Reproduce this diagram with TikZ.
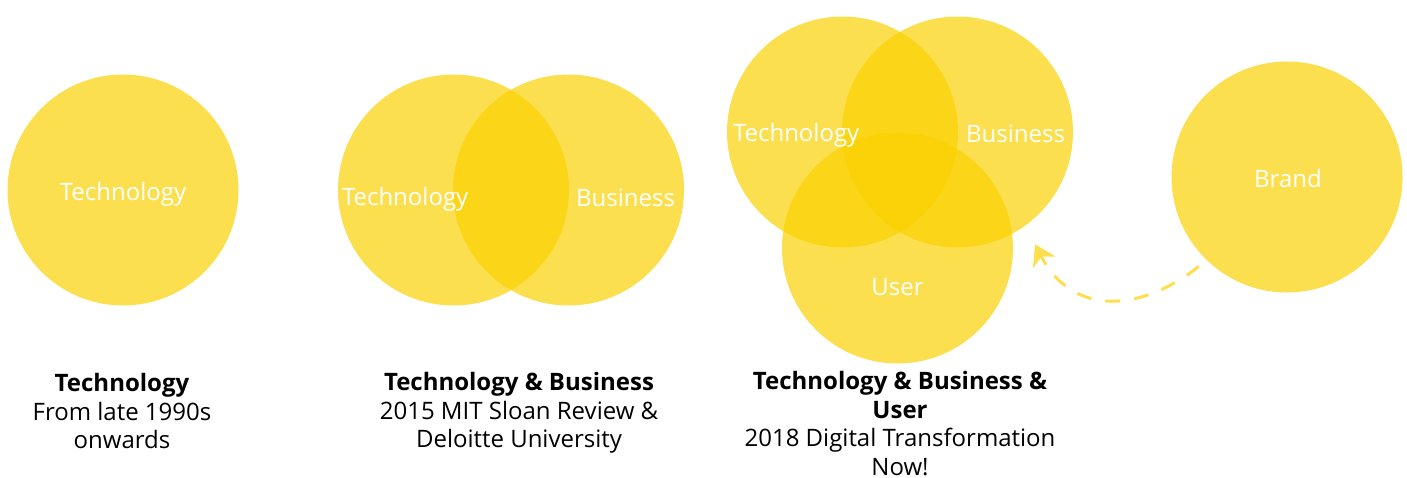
\documentclass[tikz,border=0pt]{standalone}
\usepackage{fontspec}
\setmainfont{Open Sans}
\usepackage{xcolor, tikz}
\usetikzlibrary{positioning,arrows.meta}
\definecolor{sun}{RGB}{250,209,0}
\colorlet{sunlight}{sun!69!white}
\tikzstyle{disc} = [circle, minimum size=231pt, inner sep=0pt, fill=sun, fill opacity=0.69]
\tikzstyle{lbl} = [text=white, inner sep=0pt, font=\fontsize{24}{28}\selectfont]
\tikzstyle{caption} = [align=center, inner sep=0pt, font=\fontsize{24}{28.5}\selectfont]
\tikzstyle{dasharrow} = [draw=sunlight, line width=3pt, dash pattern=on 15pt off 14pt, -{Stealth[length=20pt, width=25pt, inset=6pt]}]

\begin{document}
\begin{tikzpicture}[x=1pt, y=-1pt]
    \useasboundingbox (0,0) rectangle (1407,477);
    % the circles
    \node (tech1)[disc] at (123,190) {};
    \node (tech2)[disc] at (453.5,190) {};
    \node (bus2)[disc] at (568.5,190) {};
    \node (tech3)[disc] at (842.5,132) {};
    \node (bus3)[disc] at (957.5,132) {};
    \node (user3)[disc] at (897.5,248) {};
    \node (brand)[disc] at (1287,177) {};
    % labels on top
    \node (l1)[lbl] at (123,194) {Technology};
    \node (l2a)[lbl, right=4pt of tech2.west, yshift=-9pt] {Technology};
    \node (l2b)[lbl, left=9pt of bus2.east, yshift=-8pt] {Business};
    \node (l3a)[lbl, right=6pt of tech3.west, yshift=-3pt] {Technology};
    \node (l3b)[lbl, left=8pt of bus3.east, yshift=-2pt] {Business};
    \node (l3c)[lbl] at (897.5,287) {User};
    \node (l4)[lbl] at (1288,178) {Brand};
    % captions
    \node (c1)[caption] at (122,411) {\textbf{Technology}\\From late 1990s\\onwards};
    \node (c2)[caption] at (519,413) {\textbf{Technology \& Business}\\2015 MIT Sloan Review \&\\Deloitte University};
    \node (c3)[caption] at (900,423.5) {\textbf{Technology \& Business \&}\\\textbf{User}\\2018 Digital Transformation\\Now!};
    % brand feeds back into the three
    \draw[dasharrow, shorten <=10pt, shorten >=21pt] (brand.226) .. controls +(-70,55) and +(45,88) .. (bus3.-54);
\end{tikzpicture}
\end{document}
